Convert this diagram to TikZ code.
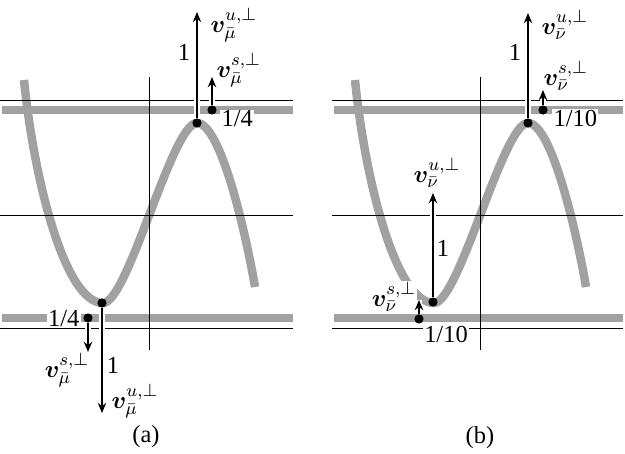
\documentclass[tikz,border=0pt]{standalone}
\usepackage{fontspec}
\setmainfont{Liberation Serif}
\usepackage{amsmath}
\usepackage{bm}
\usetikzlibrary{arrows.meta}

\tikzset{
  band/.style={line width=3.6pt, black!37},
  thinline/.style={line width=0.45pt},
  graph/.style={line width=3.8pt, black!37},
  dot/.style={circle, fill, inner sep=0pt, minimum size=4pt},
  vec/.style={line width=0.5pt, -{Stealth[length=4.6pt,width=3.8pt]},
    preaction={draw=white, line width=2.6pt, -}},
  svec/.style={vec, line width=0.9pt},
  lbl/.style={inner sep=0.5pt, font=\fontsize{11}{13}\selectfont},
  cut/.style={lbl, fill=white},
}
\newcommand{\vecu}[1]{$\bm{v}^{u,\perp}_{\bar{#1}}$}
\newcommand{\vecs}[1]{$\bm{v}^{s,\perp}_{\bar{#1}}$}

\begin{document}
\begin{tikzpicture}[x=0.45pt, y=-0.45pt]
  \useasboundingbox (0,0) rectangle (625,453);

  % both panels: bands, graph, axes
  \foreach \dx/\xa/\xb in {0/0/293, 331/332/623} {
    \begin{scope}[shift={(\dx,0)}]
      \draw[band] (\xa-\dx+2,110) -- (\xb-\dx,110);
      \draw[band] (\xa-\dx+2,318) -- (\xb-\dx,318);
      \draw[graph] (24,80) .. controls (34,180) and (65,303) .. (103,303)
        .. controls (128,303) and (172,123) .. (197,123)
        .. controls (222,123) and (248,245) .. (255,287);
      \draw[thinline] (\xa-\dx,100) -- (\xb-\dx,100);
      \draw[thinline] (\xa-\dx,215) -- (\xb-\dx,215);
      \draw[thinline] (\xa-\dx,328) -- (\xb-\dx,328);
      \draw[thinline] (149,77) -- (149,350);
    \end{scope}
  }

  % labels that cut through the gray lines
  \node[cut, anchor=west] (qa) at (220,119) {1/4};
  \node[cut, anchor=east] (qb) at (81,319) {1/4};
  \node[cut, anchor=west] (qc) at (552,118) {1/10};
  \node[cut] (lsd) at (394,297) {\vecs{\nu}};
  \node[cut] (qd) at (446,334) {1/10};

  % panel (a)
  \node[dot] (maxa) at (197,123) {};
  \node[dot] (mina) at (102,303) {};
  \node[dot] (sta) at (212,110) {};
  \node[dot] (sba) at (88,318) {};
  \coordinate (tipua) at (197,12);
  \coordinate (tipsa) at (212,77);
  \coordinate (tipub) at (102,413);
  \coordinate (tipsb) at (88,352);
  \draw[vec] (maxa) -- (tipua);
  \draw[svec] (sta) -- (tipsa);
  \draw[vec] (mina) -- (tipub);
  \draw[svec] (sba) -- (tipsb);
  \node[dot] at (maxa) {};
  \node[dot] at (mina) {};
  \node[dot] at (sta) {};
  \node[dot] at (sba) {};
  \node[lbl] (onea) at (184,52) {1};
  \node[lbl, anchor=west] (lua) at (209,25) {\vecu{\mu}};
  \node[lbl, anchor=west] (lsa) at (215,70) {\vecs{\mu}};
  \node[lbl] (lsb) at (67,370) {\vecs{\mu}};
  \node[lbl] (oneb) at (113,365) {1};
  \node[lbl] (lub) at (135,401) {\vecu{\mu}};
  \node[lbl] (capa) at (146,437) {(a)};

  % panel (b)
  \node[dot] (maxb) at (528,123) {};
  \node[dot] (minb) at (433,302) {};
  \node[dot] (stb) at (543,110) {};
  \node[dot] (sbb) at (419,319) {};
  \coordinate (tipuc) at (528,13);
  \coordinate (tipsc) at (543,90);
  \coordinate (tipud) at (433,193);
  \coordinate (tipsd) at (419,300);
  \draw[vec] (maxb) -- (tipuc);
  \draw[svec] (stb) -- (tipsc);
  \draw[vec] (minb) -- (tipud);
  \draw[svec] (sbb) -- (tipsd);
  \node[dot] at (maxb) {};
  \node[dot] at (minb) {};
  \node[dot] at (stb) {};
  \node[dot] at (sbb) {};
  \node[lbl] (onec) at (515,52) {1};
  \node[lbl, anchor=west] (luc) at (540,25) {\vecu{\nu}};
  \node[lbl, anchor=west] (lsc) at (542,76) {\vecs{\nu}};
  \node[lbl] (lud) at (437,173) {\vecu{\nu}};
  \node[lbl] (oned) at (443,248) {1};
  \node[lbl] (capb) at (480,438) {(b)};
\end{tikzpicture}
\end{document}
